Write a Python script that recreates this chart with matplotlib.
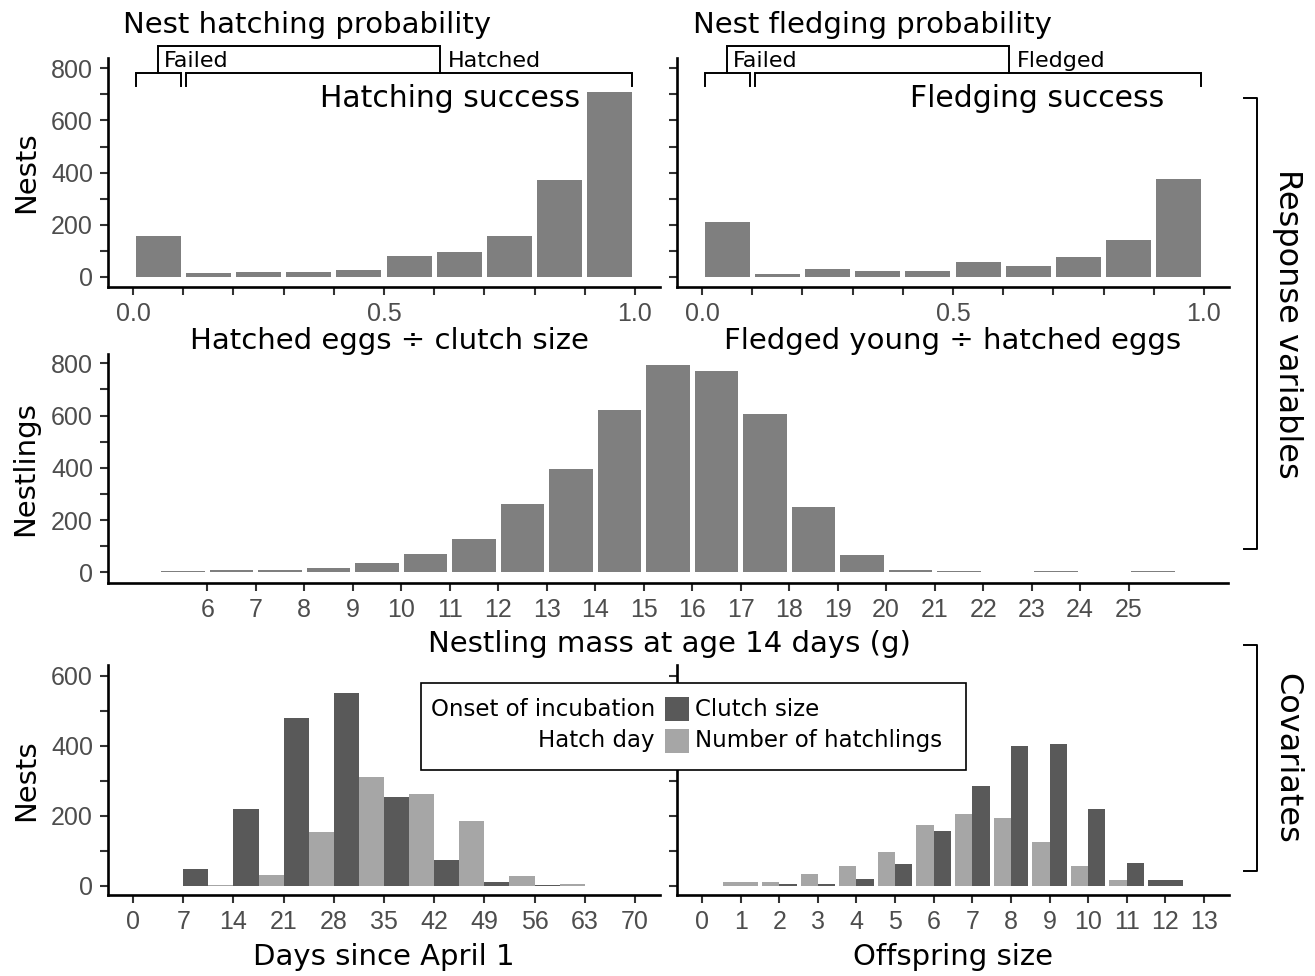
import numpy as np
import matplotlib
matplotlib.use("Agg")
import matplotlib.pyplot as plt
from matplotlib.patches import Rectangle
from matplotlib.lines import Line2D
from matplotlib.ticker import FixedLocator, FixedFormatter

plt.rcParams['font.family'] = ['Liberation Sans', 'DejaVu Sans']

# ---------------- data ----------------
success_centers = [0.05, 0.15, 0.25, 0.35, 0.45, 0.55, 0.65, 0.75, 0.85, 0.95]
hatching_counts = [156, 13, 17, 17, 26, 79, 95, 156, 371, 709]
fledging_counts = [210, 10, 29, 22, 22, 55, 41, 75, 140, 377]

mass_left_edges = [5, 6, 7, 8, 9, 10, 11, 12, 13, 14, 15, 16, 17, 18, 19, 20, 21, 22, 23, 24, 25]
mass_counts = [4, 8, 8, 17, 37, 70, 128, 261, 395, 621, 793, 770, 606, 249, 66, 8, 4, 0, 4, 0, 4]
mass_ticks = list(range(6, 26))

day_bins = [7, 14, 21, 28, 35, 42, 49, 56]
onset_counts = [48, 219, 479, 550, 253, 73, 10, 3]
hatchday_counts = [3, 30, 153, 310, 262, 185, 28, 4]
day_ticks = [0, 7, 14, 21, 28, 35, 42, 49, 56, 63, 70]

offspring_sizes = [1, 2, 3, 4, 5, 6, 7, 8, 9, 10, 11, 12]
clutch_counts = [0, 5, 5, 19, 62, 156, 285, 399, 405, 219, 65, 16]
hatchling_counts = [10, 10, 33, 56, 96, 173, 205, 193, 125, 56, 16, 0]
offspring_ticks = list(range(0, 14))

MID = '#7f7f7f'
DARK = '#595959'
LIGHT = '#a6a6a6'
TXT = ['DejaVu Sans']

W, H = 1315, 976
fig = plt.figure(figsize=(W / 100, H / 100), dpi=100)


def add_ax(l, t, r, b):
    return fig.add_axes([l / W, 1 - b / H, (r - l) / W, (b - t) / H])


def ftext(x, y, s, **kw):
    kw.setdefault('family', TXT)
    return fig.text(x / W, 1 - y / H, s, **kw)


def style(ax, yticks, ylabels, xticks, xlabels):
    for s in ['top', 'right']:
        ax.spines[s].set_visible(False)
    for s in ['left', 'bottom']:
        ax.spines[s].set_linewidth(1.9)
        ax.spines[s].set_color('black')
    ax.yaxis.set_major_locator(FixedLocator(yticks))
    ax.yaxis.set_major_formatter(FixedFormatter(ylabels))
    ax.xaxis.set_major_locator(FixedLocator(xticks))
    ax.xaxis.set_major_formatter(FixedFormatter(xlabels))
    ax.tick_params(axis='both', length=5.8, width=1.5, color='#333333',
                   labelsize=18, labelcolor='#4d4d4d', pad=5)


y800 = list(range(0, 801, 100))
y800_lab = [str(v) if v % 200 == 0 else '' for v in y800]
y600 = list(range(0, 601, 100))
y600_lab = [str(v) if v % 200 == 0 else '' for v in y600]
x01 = [i / 10 for i in range(11)]
x01_lab = ['0.0' if i == 0 else ('0.5' if i == 5 else ('1.0' if i == 10 else '')) for i in range(11)]

# ---------------- top panels ----------------
ax1 = add_ax(108, 58, 660, 287.1)
ax2 = add_ax(677, 58, 1229, 287.1)
for ax, counts in [(ax1, hatching_counts), (ax2, fledging_counts)]:
    ax.bar(success_centers, counts, width=0.09, color=MID, linewidth=0)
    ax.set_xlim(-0.05, 1.05)
    ax.set_ylim(-40, 840)
style(ax1, y800, y800_lab, x01, x01_lab)
style(ax2, y800, ['' for _ in y800], x01, x01_lab)


def brackets(ax, lab1, lab2):
    kw = dict(color='black', lw=1.4, clip_on=False, solid_joinstyle='miter')
    ax.plot([0.005, 0.005, 0.095, 0.095], [732, 783, 783, 732], **kw)
    ax.plot([0.105, 0.105, 0.995, 0.995], [732, 783, 783, 732], **kw)
    ax.plot([0.05, 0.05, 0.612, 0.612], [783, 886, 886, 783], **kw)
    ax.text(0.062, 804, lab1, family=TXT, fontsize=16, ha='left', va='baseline', clip_on=False)
    ax.text(0.628, 804, lab2, family=TXT, fontsize=16, ha='left', va='baseline', clip_on=False)
    return ax


brackets(ax1, 'Failed', 'Hatched')
brackets(ax2, 'Failed', 'Fledged')
ax1.text(0.89, 652, 'Hatching success', family=TXT, fontsize=21.5, ha='right', va='baseline')
ax2.text(0.92, 652, 'Fledging success', family=TXT, fontsize=21.5, ha='right', va='baseline')

ftext(123, 33, 'Nest hatching probability', fontsize=21, ha='left', va='baseline')
ftext(693, 33, 'Nest fledging probability', fontsize=21, ha='left', va='baseline')
ftext(389, 349, 'Hatched eggs \u00f7 clutch size', fontsize=21, ha='center', va='baseline')
ftext(953, 349, 'Fledged young \u00f7 hatched eggs', fontsize=21, ha='center', va='baseline')
ftext(26, 172.5, 'Nests', fontsize=21, rotation=90, ha='center', va='center')

# ---------------- middle panel ----------------
ax3 = add_ax(108, 354.1, 1228, 583.3)
mass_centers = [e + 0.5 for e in mass_left_edges]
ax3.bar(mass_centers, mass_counts, width=0.9, color=MID, linewidth=0)
ax3.set_xlim(3.95, 27.05)
ax3.set_ylim(-42, 835)
style(ax3, y800, y800_lab, mass_ticks, [str(t) for t in mass_ticks])
ftext(669, 652, 'Nestling mass at age 14 days (g)', fontsize=21, ha='center', va='baseline')
ftext(25, 469, 'Nestlings', fontsize=21, rotation=90, ha='center', va='center')

# ---------------- bottom panels ----------------
ax4 = add_ax(108, 665.2, 660, 895.2)
ax5 = add_ax(677, 665.2, 1229, 895.2)

ax4.bar([b + 1.75 for b in day_bins], onset_counts, width=3.5, color=DARK, linewidth=0)
ax4.bar([b + 5.25 for b in day_bins], hatchday_counts, width=3.5, color=LIGHT, linewidth=0)
ax4.set_xlim(-3.5, 73.5)
ax4.set_ylim(-27, 630)
style(ax4, y600, y600_lab, day_ticks, [str(t) for t in day_ticks])

for x, c, h in zip(offspring_sizes, clutch_counts, hatchling_counts):
    if c > 0 and h > 0:
        ax5.bar(x - 0.225, h, width=0.45, color=LIGHT, linewidth=0)
        ax5.bar(x + 0.225, c, width=0.45, color=DARK, linewidth=0)
    elif h > 0:
        ax5.bar(x, h, width=0.9, color=LIGHT, linewidth=0)
    elif c > 0:
        ax5.bar(x, c, width=0.9, color=DARK, linewidth=0)
ax5.set_xlim(-0.65, 13.65)
ax5.set_ylim(-27, 630)
style(ax5, y600, ['' for _ in y600], offspring_ticks, [str(t) for t in offspring_ticks])

ftext(384, 965, 'Days since April 1', fontsize=21, ha='center', va='baseline')
ftext(953, 965, 'Offspring size', fontsize=21, ha='center', va='baseline')
ftext(26, 780, 'Nests', fontsize=21, rotation=90, ha='center', va='center')

# ---------------- shared legend ----------------
tf = fig.transFigure
fig.add_artist(Rectangle((421.5 / W, 1 - 770 / H), (966 - 421.5) / W, (770 - 683) / H,
                         transform=tf, facecolor='white', edgecolor='black', lw=1.2, zorder=10))
fig.add_artist(Rectangle((664.5 / W, 1 - 721 / H), 24 / W, 24 / H, transform=tf,
                         facecolor=DARK, edgecolor='none', zorder=11))
fig.add_artist(Rectangle((664.5 / W, 1 - 753 / H), 24 / W, 24 / H, transform=tf,
                         facecolor=LIGHT, edgecolor='none', zorder=11))
ftext(655, 709, 'Onset of incubation', fontsize=16.5, ha='right', va='center', zorder=12)
ftext(655, 741, 'Hatch day', fontsize=16.5, ha='right', va='center', zorder=12)
ftext(695, 709, 'Clutch size', fontsize=16.5, ha='left', va='center', zorder=12)
ftext(695, 741, 'Number of hatchlings', fontsize=16.5, ha='left', va='center', zorder=12)

# ---------------- right-side group brackets ----------------
def side_bracket(top, bottom, label):
    xs = [1244 / W, 1257 / W, 1257 / W, 1244 / W]
    ys = [1 - top / H, 1 - top / H, 1 - bottom / H, 1 - bottom / H]
    fig.add_artist(Line2D(xs, ys, transform=tf, color='black', lw=1.4))
    ftext(1287, (top + bottom) / 2, label, fontsize=23, rotation=270, ha='center', va='center')


side_bracket(98, 549, 'Response variables')
side_bracket(645, 871, 'Covariates')

fig.savefig('out.png', dpi=100)
